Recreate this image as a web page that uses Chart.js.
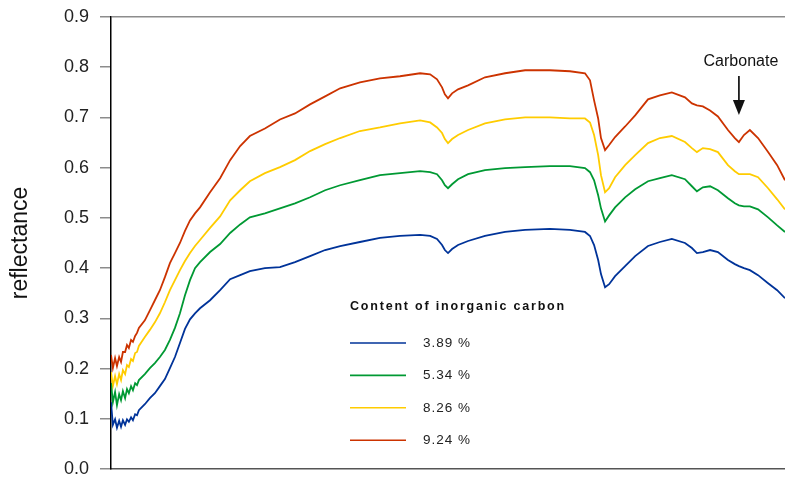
<!DOCTYPE html>
<html>
<head>
<meta charset="utf-8">
<script src="https://cdn.jsdelivr.net/npm/chart.js@4.4.0/dist/chart.umd.min.js"></script>
<style>
  body { margin: 0; background: #fff; }
  #wrap { width: 785px; height: 480px; }
</style>
</head>
<body>
<div id="wrap"><canvas id="myChart" width="785" height="480"></canvas></div>
<script>
// wavelength (nm) of each sample, shared by all four spectra
const wavelengths = [
  350, 356, 363, 369, 376, 382, 388, 395, 401, 407, 414, 420, 427, 433, 439,
  458, 474, 490, 506, 522, 538, 554, 570, 586, 602,
  618, 634, 666, 698, 730, 762, 793, 841, 889, 937,
  985, 1033, 1081, 1144, 1208, 1272, 1336, 1368, 1390, 1406,
  1415, 1425, 1438, 1457, 1489, 1543, 1607, 1671, 1750, 1814,
  1862, 1878, 1891, 1904, 1913, 1926, 1939, 1958, 1990, 2022,
  2063, 2101, 2139, 2181, 2203, 2219, 2238, 2261, 2286, 2318,
  2340, 2353, 2369, 2388, 2414, 2446, 2475, 2500
];

const carbon389 = [
  0.133, 0.088, 0.099, 0.082, 0.096, 0.084, 0.097, 0.088, 0.099, 0.094, 0.103, 0.097, 0.109, 0.107, 0.117,
  0.129, 0.141, 0.151, 0.165, 0.179, 0.201, 0.223, 0.251, 0.279, 0.298,
  0.310, 0.320, 0.336, 0.356, 0.378, 0.386, 0.394, 0.400, 0.402, 0.412,
  0.424, 0.436, 0.444, 0.452, 0.460, 0.464, 0.466, 0.464, 0.458, 0.446,
  0.436, 0.430, 0.438, 0.446, 0.454, 0.464, 0.472, 0.476, 0.478, 0.476,
  0.472, 0.464, 0.446, 0.416, 0.388, 0.362, 0.368, 0.384, 0.404, 0.424,
  0.444, 0.452, 0.458, 0.450, 0.440, 0.430, 0.432, 0.436, 0.432, 0.416,
  0.408, 0.404, 0.400, 0.396, 0.386, 0.370, 0.356, 0.340
];

const carbon534 = [
  0.171, 0.133, 0.153, 0.127, 0.149, 0.137, 0.155, 0.141, 0.159, 0.151, 0.165, 0.157, 0.171, 0.167, 0.177,
  0.189, 0.201, 0.211, 0.223, 0.237, 0.257, 0.281, 0.310, 0.346, 0.376,
  0.400, 0.412, 0.432, 0.448, 0.470, 0.487, 0.501, 0.509, 0.519, 0.529,
  0.541, 0.555, 0.565, 0.575, 0.585, 0.589, 0.593, 0.591, 0.587, 0.575,
  0.565, 0.559, 0.567, 0.577, 0.587, 0.595, 0.599, 0.601, 0.603, 0.603,
  0.599, 0.591, 0.575, 0.545, 0.519, 0.493, 0.505, 0.521, 0.541, 0.557,
  0.573, 0.579, 0.585, 0.577, 0.563, 0.553, 0.561, 0.563, 0.555, 0.539,
  0.529, 0.525, 0.523, 0.523, 0.517, 0.501, 0.485, 0.472
];

const carbon826 = [
  0.193, 0.165, 0.185, 0.169, 0.189, 0.177, 0.197, 0.189, 0.207, 0.203, 0.219, 0.215, 0.231, 0.233, 0.245,
  0.263, 0.277, 0.292, 0.310, 0.332, 0.356, 0.376, 0.396, 0.414, 0.430,
  0.444, 0.456, 0.480, 0.503, 0.535, 0.555, 0.573, 0.589, 0.601, 0.615,
  0.633, 0.647, 0.659, 0.673, 0.680, 0.688, 0.694, 0.690, 0.680, 0.669,
  0.657, 0.649, 0.657, 0.665, 0.675, 0.688, 0.696, 0.700, 0.700, 0.698,
  0.698, 0.690, 0.665, 0.625, 0.585, 0.551, 0.559, 0.581, 0.605, 0.625,
  0.649, 0.659, 0.663, 0.651, 0.639, 0.631, 0.639, 0.637, 0.631, 0.605,
  0.593, 0.587, 0.587, 0.587, 0.581, 0.559, 0.537, 0.517
];

const carbon924 = [
  0.227, 0.201, 0.221, 0.205, 0.223, 0.213, 0.233, 0.233, 0.247, 0.241, 0.257, 0.253, 0.265, 0.271, 0.281,
  0.296, 0.316, 0.336, 0.356, 0.382, 0.410, 0.430, 0.450, 0.474, 0.495,
  0.509, 0.521, 0.551, 0.579, 0.615, 0.643, 0.663, 0.678, 0.696, 0.708,
  0.726, 0.742, 0.758, 0.770, 0.778, 0.782, 0.788, 0.786, 0.776, 0.760,
  0.746, 0.738, 0.748, 0.756, 0.764, 0.780, 0.788, 0.794, 0.794, 0.792,
  0.788, 0.774, 0.734, 0.698, 0.659, 0.635, 0.645, 0.661, 0.682, 0.704,
  0.736, 0.744, 0.750, 0.740, 0.728, 0.724, 0.722, 0.714, 0.702, 0.675,
  0.659, 0.651, 0.665, 0.675, 0.659, 0.631, 0.605, 0.575
];

const seriesLabels = ["3.89 %", "5.34 %", "8.26 %", "9.24 %"];
const seriesColors = ["#003399", "#009933", "#ffcc00", "#cc3300"];
const legendTitle = "Content of inorganic carbon";

// the carbonate absorption feature marked by the arrow
const carbonateLabel = "Carbonate";
const carbonateWavelength = 2353;

function toPoints(values) {
  return wavelengths.map((w, i) => ({ x: w, y: values[i] }));
}

// legend box drawn inside the plot area
const insideLegend = {
  id: "insideLegend",
  afterDraw(chart) {
    const ctx = chart.ctx;
    const area = chart.chartArea;
    const left = area.left + 239;
    let top = area.top + 293;
    ctx.save();
    ctx.fillStyle = "#111";
    ctx.font = "bold 12.5px 'Liberation Sans', Arial, sans-serif";
    ctx.letterSpacing = "1.8px";
    ctx.textBaseline = "middle";
    ctx.fillText(legendTitle, left, top - 3);
    ctx.font = "13.5px 'Liberation Sans', Arial, sans-serif";
    ctx.letterSpacing = "1px";
    chart.data.datasets.forEach((ds, i) => {
      const y = top + 33 + i * 32.4;
      ctx.strokeStyle = ds.borderColor;
      ctx.lineWidth = 1.6;
      ctx.beginPath();
      ctx.moveTo(left, y);
      ctx.lineTo(left + 56, y);
      ctx.stroke();
      ctx.fillStyle = "#222";
      ctx.fillText(ds.label, left + 73, y);
    });
    ctx.restore();
  },
};

// "Carbonate" text with a downward arrow
const carbonateArrow = {
  id: "carbonateArrow",
  afterDraw(chart) {
    const ctx = chart.ctx;
    const x = chart.scales.x.getPixelForValue(carbonateWavelength);
    const area = chart.chartArea;
    const textY = area.top + 45;
    ctx.save();
    ctx.fillStyle = "#111";
    ctx.font = "16px 'Liberation Sans', Arial, sans-serif";
    ctx.textAlign = "center";
    ctx.textBaseline = "middle";
    ctx.fillText(carbonateLabel, x + 2, textY);
    ctx.strokeStyle = "#000";
    ctx.lineWidth = 1.6;
    ctx.beginPath();
    ctx.moveTo(x, textY + 14);
    ctx.lineTo(x, textY + 40);
    ctx.stroke();
    ctx.beginPath();
    ctx.moveTo(x - 6, textY + 38);
    ctx.lineTo(x + 6, textY + 38);
    ctx.lineTo(x, textY + 53);
    ctx.closePath();
    ctx.fill();
    ctx.restore();
  },
};

function main() {
  const ctx = document.getElementById("myChart").getContext("2d");
  const datasets = [carbon389, carbon534, carbon826, carbon924].map((vals, i) => ({
    label: seriesLabels[i],
    data: toPoints(vals),
    borderColor: seriesColors[i],
    borderWidth: 1.8,
    pointRadius: 0,
    tension: 0,
    fill: false,
  }));

  new Chart(ctx, {
    type: "line",
    data: { datasets },
    options: {
      responsive: false,
      animation: false,
      devicePixelRatio: 1,
      layout: { padding: { top: 17, right: 0, bottom: 11, left: 0 } },
      plugins: { legend: { display: false }, tooltip: { enabled: false } },
      scales: {
        x: {
          type: "linear",
          min: 350,
          max: 2500,
          ticks: { display: false },
          grid: { display: false, drawTicks: false },
          border: { display: true, color: "#555", width: 1.5 },
          afterFit: (scale) => {
            scale.height = 0;
            scale.paddingLeft = 0;
            scale.paddingRight = 0;
          },
        },
        y: {
          min: 0,
          max: 0.9,
          ticks: {
            stepSize: 0.1,
            padding: 11,
            color: "#222",
            font: { family: "'Liberation Sans', Arial, sans-serif", size: 18 },
            callback: (v) => v.toFixed(1),
          },
          grid: {
            color: (c) => (c.tick && Math.abs(c.tick.value - 0.9) < 1e-6 ? "#8c8c8c" : "rgba(0,0,0,0)"),
            tickColor: "#8c8c8c",
            tickLength: 11,
            lineWidth: 1.5,
          },
          border: { display: true, color: "#000", width: 1.5 },
          title: {
            display: true,
            text: "reflectance",
            color: "#111",
            font: { family: "'Liberation Sans', Arial, sans-serif", size: 23 },
            padding: { top: 7, bottom: 0 },
          },
          afterFit: (scale) => {
            scale.width = 111;
            scale.paddingTop = 0;
            scale.paddingBottom = 0;
          },
        },
      },
    },
    plugins: [insideLegend, carbonateArrow],
  });
}

document.addEventListener("DOMContentLoaded", main);
</script>
</body>
</html>
